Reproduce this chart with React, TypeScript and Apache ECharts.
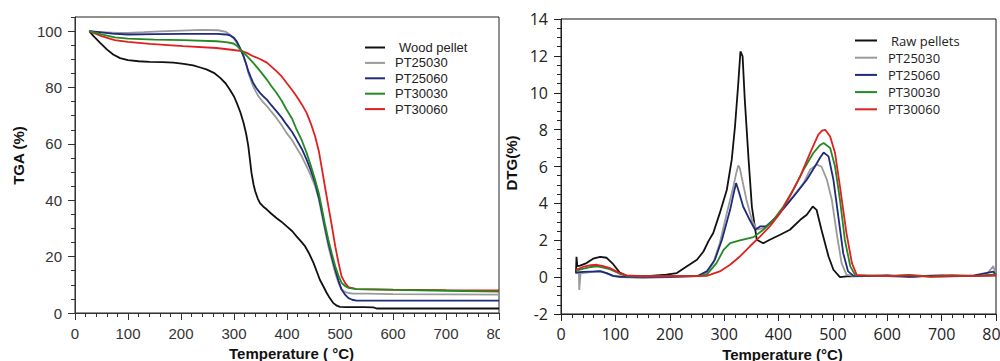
import React, { useEffect, useRef } from "react";
import * as echarts from "echarts";

// ---------- TGA (left) ----------
const woodT = [27, 35, 47, 60, 72, 85, 100, 120, 141, 165, 186, 205, 223, 238, 248, 262, 274, 284, 292, 300, 305, 312, 318, 323, 327, 330, 333, 337, 340, 345, 349, 355, 362, 370, 380, 390, 399, 410, 418, 426, 434, 442, 450, 456, 462, 469, 475, 481, 487, 494, 500, 512, 525, 545, 563, 569, 600, 700, 800];
const woodV = [100, 98.2, 95.9, 93.5, 91.7, 90.4, 89.7, 89.3, 89.1, 89, 88.8, 88.4, 87.8, 87, 86.4, 85.2, 83.4, 81.5, 79.3, 76.8, 74.6, 71.2, 67.5, 63.5, 59.2, 54.5, 49.7, 45.5, 43.2, 40.5, 39, 37.8, 36.7, 35.3, 33.7, 32.3, 30.8, 29, 27.2, 25.5, 23.7, 21, 17.8, 14.8, 11.8, 9.3, 7.1, 5.2, 3.6, 2.6, 2.2, 2.1, 2.1, 2.1, 2.0, 1.6, 1.6, 1.6, 1.6];

const g1T = [27, 40, 60, 80, 100, 130, 160, 200, 240, 270, 285, 292, 300, 305, 312, 318, 323, 327, 332, 336, 341, 346, 354, 362, 370, 380, 390, 399, 410, 418, 428, 437, 445, 453, 460, 465, 471, 478, 485, 491, 497, 503, 510, 516, 525, 550, 600, 700, 800];
const g1V = [100, 99.6, 99.5, 99.4, 99.4, 99.6, 99.9, 100.2, 100.4, 100.3, 99.7, 98.8, 97.3, 95.9, 93.5, 91.1, 88.2, 85.2, 82.5, 80.5, 78.6, 76.9, 75, 73.4, 71.5, 69.2, 66.6, 63.9, 61.2, 58.6, 55.5, 52, 48.7, 45, 40.5, 35.5, 30, 23.7, 18.5, 14.2, 10.8, 8.3, 7.4, 7.1, 6.9, 6.9, 6.7, 6.6, 6.5];

const g2T = [27, 47, 70, 100, 150, 204, 267, 285, 292, 300, 305, 312, 318, 323, 327, 332, 336, 342, 349, 355, 362, 370, 380, 390, 399, 410, 418, 428, 437, 445, 453, 460, 465, 471, 478, 485, 491, 497, 503, 510, 516, 523, 531, 560, 600, 700, 800];
const g2V = [100, 99.6, 99.1, 98.8, 98.9, 99, 99, 98.8, 98.5, 97.6, 96.4, 93.8, 91.1, 88.3, 85.8, 83.5, 81.7, 79.8, 78.1, 76.9, 75.7, 73.8, 71.6, 69.3, 66.9, 64.1, 61.5, 58.2, 54.4, 50.6, 46.2, 41, 36.7, 31, 24.9, 19.6, 15.4, 11.5, 8.3, 6.4, 5.3, 4.7, 4.4, 4.4, 4.4, 4.4, 4.4];

const g3T = [27, 50, 75, 100, 150, 204, 267, 285, 299, 307, 315, 325, 336, 349, 362, 370, 380, 390, 399, 410, 418, 428, 437, 445, 453, 460, 465, 471, 478, 485, 491, 497, 503, 510, 516, 531, 600, 700, 800];
const g3V = [100, 98.8, 97.8, 97.3, 97, 96.8, 96.4, 96.1, 95.6, 94.5, 92.9, 91, 88.8, 85.9, 82.8, 80.6, 78.1, 75.3, 72.2, 68.8, 65.1, 61.2, 56.8, 52.2, 47.3, 42.5, 37.9, 32, 26, 20.8, 16.6, 13.3, 10.7, 9.5, 8.9, 8.5, 8.2, 7.9, 7.6];

const g4T = [27, 50, 75, 100, 141, 204, 267, 299, 315, 325, 336, 349, 362, 370, 380, 390, 399, 410, 418, 428, 437, 445, 453, 460, 465, 471, 478, 485, 491, 497, 503, 510, 516, 531, 600, 700, 800];
const g4V = [100, 98.2, 96.8, 96.2, 95.5, 94.7, 94, 93.3, 92.9, 92.2, 91.1, 90.1, 88.8, 87.5, 85.8, 83.9, 81.7, 79, 76.9, 74, 71, 67.2, 62.7, 57.5, 52.1, 45.5, 37.9, 30.5, 23.7, 18, 13, 10.5, 9.2, 8.5, 8.3, 8.1, 8];

// ---------- DTG (right) ----------
const rawT = [27.5, 28.5, 30, 35, 47, 59, 72, 84, 96, 108, 121, 140, 164, 194, 213, 231, 250, 262, 271, 280, 292, 305, 314, 320, 326, 330, 334, 338, 345, 351, 360, 372, 384, 403, 421, 440, 452, 463, 470, 479, 492, 501, 513, 525, 560, 600, 650, 700, 750, 800];
const rawV = [0.2, 1.1, 0.6, 0.62, 0.76, 1.0, 1.1, 1.05, 0.7, 0.25, 0.07, 0.05, 0.07, 0.13, 0.22, 0.58, 0.94, 1.39, 1.94, 2.39, 3.47, 4.74, 6.37, 8.17, 10.5, 12.24, 11.97, 9.62, 6.37, 3.83, 2.03, 1.84, 2.03, 2.3, 2.57, 3.11, 3.38, 3.83, 3.65, 2.57, 1.12, 0.4, 0.0, 0.04, 0.05, 0.08, 0.03, 0.1, 0.06, 0.1];

const d1T = [27.5, 30, 33, 33.5, 36, 47, 60, 72, 84, 96, 110, 150, 200, 250, 268, 280, 292, 305, 317, 322, 326, 329, 332, 341, 351, 360, 372, 391, 409, 427, 446, 458, 470, 479, 489, 498, 507, 516, 525, 540, 580, 620, 660, 700, 740, 780, 795, 800];
const d1V = [0.2, 0.25, 0.2, -0.7, 0.2, 0.25, 0.3, 0.35, 0.2, 0.05, 0.0, -0.05, 0.0, 0.05, 0.22, 0.76, 1.84, 3.47, 4.92, 5.6, 6.06, 5.9, 5.46, 4.2, 3.11, 2.57, 2.66, 3.11, 3.74, 4.38, 5.1, 5.82, 6.1, 6.0, 5.28, 4.2, 2.39, 0.76, 0.13, 0.05, 0.1, 0.02, 0.08, 0.0, 0.07, 0.05, 0.6, 0.1];

const d2T = [27.5, 40, 55, 72, 84, 96, 110, 150, 200, 250, 268, 283, 296, 311, 318, 322, 326, 335, 347, 357, 366, 378, 397, 415, 433, 452, 467, 477, 483, 492, 501, 510, 519, 528, 538, 560, 600, 640, 680, 720, 760, 795, 800];
const d2V = [0.25, 0.28, 0.3, 0.31, 0.22, 0.07, 0.02, 0.02, 0.02, 0.05, 0.31, 0.94, 2.03, 3.65, 4.6, 5.1, 4.74, 3.83, 3.11, 2.57, 2.75, 2.75, 3.29, 3.92, 4.56, 5.28, 6.0, 6.5, 6.76, 6.55, 5.28, 3.29, 1.3, 0.31, 0.07, 0.05, 0.1, 0.02, 0.08, 0.05, 0.1, 0.3, 0.1];

const d3T = [27.5, 40, 55, 66, 78, 90, 108, 120, 150, 200, 250, 268, 286, 299, 311, 329, 354, 372, 391, 409, 427, 446, 464, 476, 483, 495, 504, 513, 522, 532, 541, 560, 600, 640, 680, 720, 760, 800];
const d3V = [0.35, 0.45, 0.55, 0.58, 0.52, 0.43, 0.18, 0.08, 0.05, 0.05, 0.05, 0.13, 0.76, 1.48, 1.84, 1.99, 2.17, 2.57, 3.11, 3.83, 4.74, 5.82, 6.73, 7.15, 7.27, 7.0, 6.0, 4.2, 2.03, 0.58, 0.11, 0.1, 0.05, 0.12, 0.02, 0.1, 0.05, 0.15];

const d4T = [27.5, 40, 55, 66, 78, 90, 108, 120, 150, 200, 250, 268, 292, 311, 329, 347, 366, 384, 403, 421, 440, 458, 473, 480, 486, 495, 504, 513, 525, 535, 544, 560, 600, 640, 680, 720, 760, 800];
const d4V = [0.4, 0.55, 0.65, 0.67, 0.6, 0.49, 0.22, 0.1, 0.05, 0.05, 0.05, 0.07, 0.31, 0.67, 1.12, 1.66, 2.2, 2.75, 3.47, 4.38, 5.46, 6.73, 7.72, 7.95, 7.99, 7.63, 6.73, 4.92, 2.39, 0.76, 0.11, 0.08, 0.05, 0.1, 0.03, 0.08, 0.05, 0.1];

const leftNames = ["Wood pellet", "PT25030", "PT25060", "PT30030", "PT30060"];
const rightNames = ["Raw pellets", "PT25030", "PT25060", "PT30030", "PT30060"];
const colors = ["#111111", "#9a9a9a", "#1f2a7c", "#238a23", "#e02020"];
const yMajorLeft = [0, 20, 40, 60, 80, 100];

const pairs = (t: number[], v: number[]) => t.map((x, i) => [x, v[i]]);

const lineSeries = (name: string, data: number[][], color: string) => ({
  type: "line",
  name,
  data,
  xAxisIndex: 0,
  yAxisIndex: 0,
  showSymbol: false,
  symbol: "none",
  lineStyle: { width: 1.8, color },
  itemStyle: { color },
  emphasis: { disabled: true },
});

const ARIAL = "Liberation Sans, Arial, sans-serif";
const OPEN = "Open Sans, sans-serif";

// minor-tick axis (short ticks, no labels) + major axis (long ticks, labels)
const minorAxis = (min: number, max: number, interval: number, position: string, color: string) => ({
  type: "value", min, max, interval, position,
  axisLine: { show: true, onZero: false, lineStyle: { color, width: 1 } },
  axisTick: { show: true, length: 4, lineStyle: { color } },
  axisLabel: { show: false },
  splitLine: { show: false },
});

function leftOption() {
  const axisColor = "#333";
  return {
    animation: false,
    backgroundColor: "#ffffff",
    grid: {
      left: 75, right: 1, top: 17, bottom: 48,
      show: true, borderColor: "#222", borderWidth: 1, backgroundColor: "transparent",
      containLabel: false, outerBoundsMode: "none",
    },
    legend: {
      orient: "vertical", left: 365, top: 40, padding: 0, itemGap: 0.4,
      itemWidth: 20, itemHeight: 2, icon: "rect",
      data: leftNames,
      formatter: (n: string) => (n === "Wood pellet" ? "{w|" + n + "}" : "{a|" + n + "}"),
      textStyle: {
        fontFamily: ARIAL, fontSize: 13, color: "#222", lineHeight: 15,
        rich: {
          a: { fontFamily: ARIAL, fontSize: 13, color: "#222", lineHeight: 15, padding: [0, 0, 0, 5] },
          w: { fontFamily: ARIAL, fontSize: 13, color: "#222", lineHeight: 15, padding: [0, 0, 0, 9] },
        },
      },
    },
    xAxis: [
      minorAxis(0, 800, 20, "bottom", axisColor),
      {
        type: "value", min: 0, max: 800, interval: 100, position: "bottom",
        name: "Temperature ( °C)", nameLocation: "middle", nameGap: 25,
        nameTextStyle: { fontFamily: ARIAL, fontSize: 15, fontWeight: "bold", color: "#111", padding: [0, 0, 0, 9] },
        axisLine: { show: false, onZero: false },
        axisTick: { show: true, length: 7, lineStyle: { color: axisColor } },
        axisLabel: { margin: 13, fontFamily: ARIAL, fontSize: 15, color: "#333" },
        splitLine: { show: false },
      },
    ],
    yAxis: [
      minorAxis(0, 105, 5, "left", axisColor),
      {
        type: "value", min: 0, max: 105, interval: 20, position: "left",
        name: "TGA (%)", nameLocation: "middle", nameGap: 40,
        nameTextStyle: { fontFamily: ARIAL, fontSize: 15, fontWeight: "bold", color: "#111", padding: [0, 0, 0, 19] },
        axisLine: { show: false, onZero: false },
        axisTick: { show: true, length: 7, customValues: yMajorLeft, lineStyle: { color: axisColor } },
        axisLabel: { show: true, customValues: yMajorLeft, margin: 13, fontFamily: ARIAL, fontSize: 15, color: "#333" },
        splitLine: { show: false },
      },
    ],
    series: [
      lineSeries(leftNames[0], pairs(woodT, woodV), colors[0]),
      lineSeries(leftNames[1], pairs(g1T, g1V), colors[1]),
      lineSeries(leftNames[2], pairs(g2T, g2V), colors[2]),
      lineSeries(leftNames[4], pairs(g4T, g4V), colors[4]),
      lineSeries(leftNames[3], pairs(g3T, g3V), colors[3]),
    ],
  };
}

function rightOption() {
  const axisColor = "#222";
  return {
    animation: false,
    backgroundColor: "#ffffff",
    grid: {
      left: 61, right: 4, top: 19, bottom: 47,
      show: true, borderColor: "#111", borderWidth: 1, backgroundColor: "transparent",
      containLabel: false, outerBoundsMode: "none",
    },
    legend: {
      orient: "vertical", left: 355, top: 32, padding: 0, itemGap: 0.2,
      itemWidth: 22, itemHeight: 2, icon: "rect",
      data: rightNames,
      formatter: (n: string) => (n === "Raw pellets" ? "{w|" + n + "}" : "{a|" + n + "}"),
      textStyle: {
        fontFamily: OPEN, fontSize: 13, color: "#222", lineHeight: 17,
        rich: {
          a: { fontFamily: OPEN, fontSize: 13, color: "#222", lineHeight: 17, padding: [0, 0, 0, 6] },
          w: { fontFamily: OPEN, fontSize: 13, color: "#222", lineHeight: 17, padding: [0, 0, 0, 9] },
        },
      },
    },
    xAxis: [
      minorAxis(0, 800, 20, "bottom", axisColor),
      {
        type: "value", min: 0, max: 800, interval: 100, position: "bottom",
        name: "Temperature (°C)", nameLocation: "middle", nameGap: 23,
        nameTextStyle: { fontFamily: ARIAL, fontSize: 15, fontWeight: "bold", color: "#111", padding: [0, 0, 0, 8] },
        axisLine: { show: false, onZero: false },
        axisTick: { show: true, length: 7, lineStyle: { color: axisColor } },
        axisLabel: { margin: 12, fontFamily: OPEN, fontSize: 16, color: "#222" },
        splitLine: { show: false },
      },
    ],
    yAxis: [
      minorAxis(-2, 14, 0.5, "left", axisColor),
      {
        type: "value", min: -2, max: 14, interval: 2, position: "left",
        name: "DTG(%)", nameLocation: "middle", nameGap: 34,
        nameTextStyle: { fontFamily: ARIAL, fontSize: 15, fontWeight: "bold", color: "#111", padding: [0, 0, 0, 7] },
        axisLine: { show: false, onZero: false },
        axisTick: { show: true, length: 7, lineStyle: { color: axisColor } },
        axisLabel: { margin: 13, fontFamily: OPEN, fontSize: 16, color: "#222" },
        splitLine: { show: false },
      },
    ],
    series: [
      lineSeries(rightNames[0], pairs(rawT, rawV), colors[0]),
      lineSeries(rightNames[1], pairs(d1T, d1V), colors[1]),
      lineSeries(rightNames[2], pairs(d2T, d2V), colors[2]),
      lineSeries(rightNames[3], pairs(d3T, d3V), colors[3]),
      lineSeries(rightNames[4], pairs(d4T, d4V), colors[4]),
    ],
  };
}

function Panel({ left, build }: { left: number; build: () => any }) {
  const ref = useRef<HTMLDivElement>(null);
  useEffect(() => {
    if (!ref.current) return;
    const chart = echarts.init(ref.current, undefined, { renderer: "svg" });
    chart.setOption(build());
    return () => chart.dispose();
  }, [build]);
  return (
    <div
      style={{ position: "absolute", left, top: 0, width: 500, height: 361, overflow: "hidden" }}
    >
      <div ref={ref} style={{ width: 500, height: 361 }} />
    </div>
  );
}

export default function App() {
  useEffect(() => {
    document.body.style.margin = "0";
  }, []);
  return (
    <div style={{ position: "absolute", left: 0, top: 0, width: 1000, height: 361, background: "#fff", overflow: "hidden" }}>
      <Panel left={0} build={leftOption} />
      <Panel left={500} build={rightOption} />
    </div>
  );
}
